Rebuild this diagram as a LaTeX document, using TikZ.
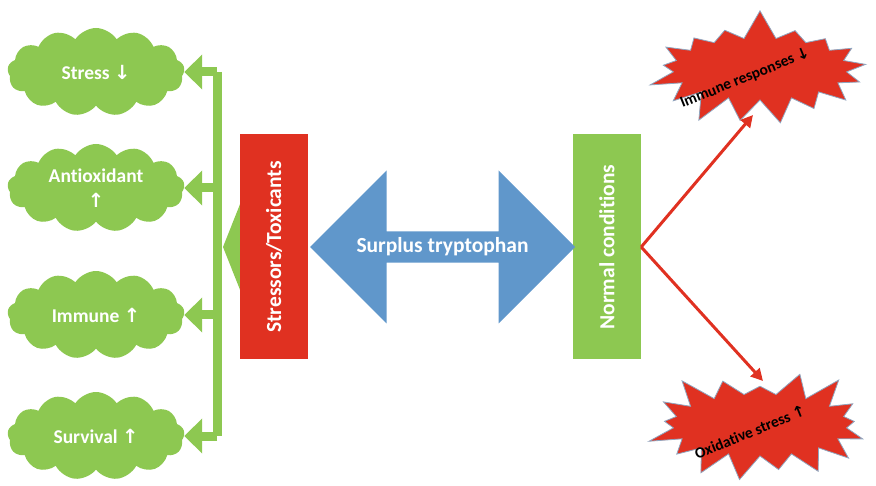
\documentclass[tikz,border=0pt]{standalone}
\usepackage{fontspec}
\setmainfont[Ligatures=NoCommon]{Carlito}
\newfontfamily\arrowfont{DejaVu Sans}
\usetikzlibrary{shapes.symbols,shapes.arrows,arrows.meta}
\definecolor{leafgreen}{HTML}{8DC851}
\definecolor{boxred}{HTML}{E03121}
\definecolor{flowblue}{HTML}{6097CB}
\definecolor{starline}{HTML}{8FA6C0}
\newcommand{\uarr}{{\arrowfont\char"2191}}
\newcommand{\darr}{{\arrowfont\char"2193}}

\begin{document}
\begin{tikzpicture}[x=1pt,y=-1pt,
    puff/.style={cloud, cloud puffs=13, cloud puff arc=115, cloud ignores aspect,
        minimum width=177pt, minimum height=88pt, inner sep=0pt, fill=leafgreen,
        text=white, align=center, font=\fontsize{19.5}{23}\selectfont\bfseries},
    panel/.style={fill=#1, rotate=90, minimum width=225pt, minimum height=68pt,
        text=white, font=\fontsize{21.5}{25}\selectfont\bfseries},
    burst/.style={starburst, starburst points=17, starburst point height=30pt,
        random starburst=#1, minimum width=234pt, minimum height=122pt,
        fill=boxred, draw=starline, line width=0.8pt},
    bursttext/.style={rotate=22, font=\fontsize{15.5}{18}\selectfont\bfseries},
    trunk/.style={draw=leafgreen, line width=9pt, line cap=square},
    branch/.style={draw=leafgreen, line width=9pt, -{Triangle[length=18pt,width=34pt]}},
    redarrow/.style={draw=boxred, line width=3pt, -{Triangle[length=12pt,width=12pt]}}
]
\useasboundingbox (0,0) rectangle (876,486);

% outcomes on the left
\node[puff] (stress) at (96,72) {Stress \darr};
\node[puff] (antiox) at (96,188) {Antioxidant\\[2pt]\uarr};
\node[puff] (immune) at (96,315) {Immune \uarr};
\node[puff] (survival) at (96,436) {Survival \uarr};

\coordinate (trunkx) at (217,0);
\coordinate (bigtip) at (223,247);

% big head behind the red panel
\draw[leafgreen, line width=20pt, -{Triangle[length=17pt,width=85pt]}]
    (274,247) -- (bigtip);

\node[panel=boxred] (stressors) at (274,247) {Stressors/Toxicants};
\node[panel=leafgreen] (normal) at (607,247) {Normal conditions};

\node[double arrow, double arrow head extend=37pt, double arrow tip angle=90,
    minimum height=265pt, minimum width=153pt, inner sep=0pt, fill=flowblue,
    text=white, font=\fontsize{21.5}{25}\selectfont\bfseries]
    (surplus) at (442.5,247) {Surplus tryptophan};

\draw[trunk] (stress.east -| trunkx) -- (survival.east -| trunkx);
\draw[branch] (stress.east -| trunkx) -- (stress.east);
\draw[branch] (antiox.east -| trunkx) -- (antiox.east);
\draw[branch] (immune.east -| trunkx) -- (immune.east);
\draw[branch] (survival.east -| trunkx) -- (survival.east);

% bursts on the right
\node[burst=7] (immstar) at (760,69) {};
\node[bursttext] (immtext) at (745,78) {Immune responses \darr};
\node[burst=23] (oxstar) at (760,425) {};
\node[bursttext] (oxtext) at (750,432) {Oxidative stress \uarr};

\coordinate (immtip) at (753,115);
\coordinate (oxtip) at (763,381);
\draw[redarrow] (normal.south) -- (immtip);
\draw[redarrow] (normal.south) -- (oxtip);

\end{tikzpicture}
\end{document}
